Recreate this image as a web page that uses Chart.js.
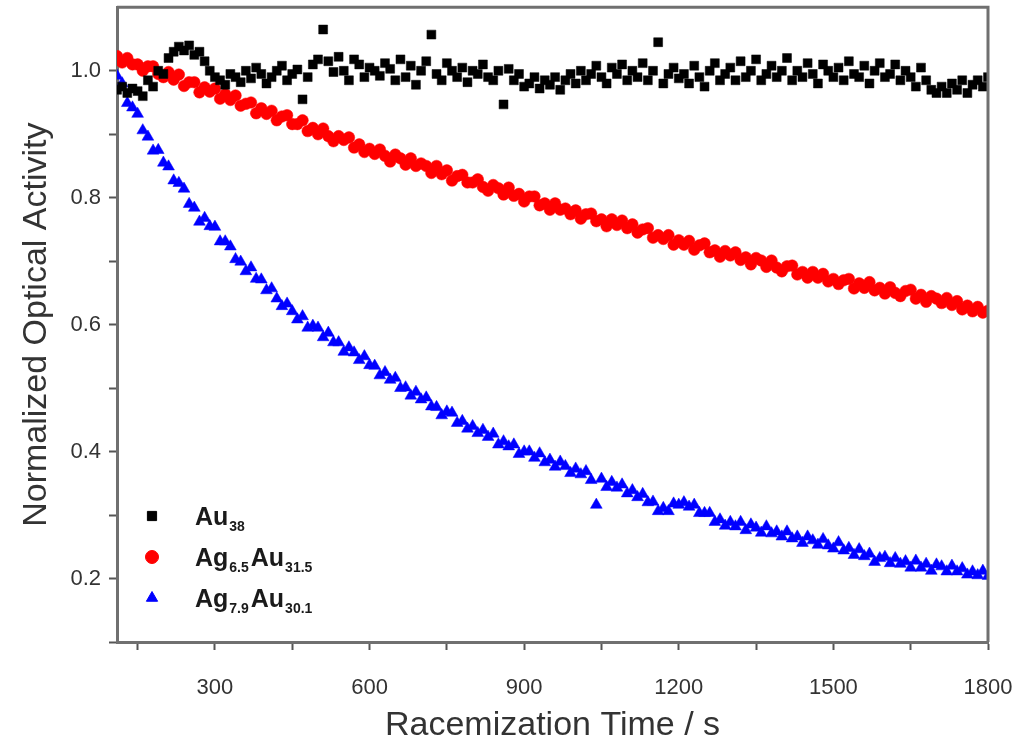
<!DOCTYPE html>
<html>
<head>
<meta charset="utf-8">
<script src="https://cdn.jsdelivr.net/npm/chart.js@4/dist/chart.umd.min.js"></script>
<style>
html,body{margin:0;padding:0;background:#fff;}
canvas{display:block;}
</style>
</head>
<body>
<canvas id="c" width="1023" height="746"></canvas>
<script>
const times = [
110,120,130,140,150,160,170,180,190,200,
210,220,230,240,250,260,270,280,290,300,
310,320,330,340,350,360,370,380,390,400,
410,420,430,440,450,460,470,480,490,500,
510,520,530,540,550,560,570,580,590,600,
610,620,630,640,650,660,670,680,690,700,
710,720,730,740,750,760,770,780,790,800,
810,820,830,840,850,860,870,880,890,900,
910,920,930,940,950,960,970,980,990,1000,
1010,1020,1030,1040,1050,1060,1070,1080,1090,1100,
1110,1120,1130,1140,1150,1160,1170,1180,1190,1200,
1210,1220,1230,1240,1250,1260,1270,1280,1290,1300,
1310,1320,1330,1340,1350,1360,1370,1380,1390,1400,
1410,1420,1430,1440,1450,1460,1470,1480,1490,1500,
1510,1520,1530,1540,1550,1560,1570,1580,1590,1600,
1610,1620,1630,1640,1650,1660,1670,1680,1690,1700,
1710,1720,1730,1740,1750,1760,1770,1780,1790,1800];

const au38 = [
0.97,0.975,0.965,0.972,0.968,0.96,0.985,0.975,1.0,0.995,
1.02,1.03,1.038,1.032,1.04,1.025,1.03,1.015,1.0,0.99,
0.985,0.978,0.995,0.99,0.982,1.0,0.988,1.005,0.995,0.98,
0.99,1.0,1.008,0.985,0.995,1.002,0.955,0.99,1.01,1.018,
1.065,1.015,0.998,1.022,1.0,0.985,1.018,1.01,0.99,1.005,
1.0,0.992,1.012,1.003,0.985,1.018,0.99,1.008,0.978,1.0,
1.015,1.057,0.995,0.985,1.012,1.0,0.99,1.005,0.982,1.0,
0.995,1.01,0.99,0.985,1.0,0.947,1.003,0.985,0.995,0.975,
0.98,0.99,0.972,0.985,0.978,0.99,0.97,0.985,0.995,0.98,
1.0,0.985,0.995,1.008,0.99,0.98,1.005,0.995,1.01,0.985,
1.0,0.99,1.012,0.985,1.0,1.045,0.98,0.995,1.005,0.988,
0.995,0.98,1.008,0.99,0.975,1.0,1.012,0.985,0.995,1.005,
0.985,1.015,0.99,1.0,1.018,0.985,0.995,1.008,0.99,1.0,
1.02,0.985,1.0,0.99,1.012,0.995,0.98,1.01,1.0,0.99,
1.005,0.985,1.015,0.995,0.99,1.008,0.98,1.0,1.012,0.99,
0.995,1.01,0.985,1.0,0.99,0.975,1.005,0.985,0.97,0.965,
0.975,0.965,0.98,0.97,0.985,0.965,0.978,0.985,0.975,0.99];

const ag65au315 = [
1.023,1.013,1.020,1.010,1.010,1.000,1.007,1.007,0.995,0.990,
0.998,0.986,0.994,0.976,0.982,0.982,0.966,0.974,0.967,0.972,
0.956,0.963,0.954,0.961,0.945,0.948,0.950,0.933,0.941,0.932,
0.937,0.922,0.928,0.930,0.916,0.916,0.922,0.905,0.910,0.900,
0.909,0.897,0.889,0.897,0.891,0.895,0.879,0.884,0.872,0.877,
0.869,0.876,0.866,0.857,0.868,0.862,0.852,0.862,0.850,0.854,
0.850,0.839,0.850,0.837,0.843,0.827,0.834,0.836,0.824,0.824,
0.829,0.817,0.811,0.820,0.815,0.805,0.816,0.803,0.806,0.794,
0.802,0.802,0.788,0.791,0.781,0.791,0.781,0.783,0.774,0.780,
0.767,0.774,0.775,0.763,0.766,0.755,0.766,0.757,0.764,0.752,
0.758,0.745,0.750,0.752,0.737,0.741,0.735,0.741,0.726,0.733,
0.726,0.732,0.718,0.725,0.728,0.714,0.717,0.707,0.716,0.709,
0.714,0.702,0.706,0.695,0.705,0.701,0.691,0.701,0.690,0.684,
0.692,0.693,0.679,0.683,0.674,0.683,0.674,0.680,0.668,0.672,
0.664,0.670,0.672,0.657,0.665,0.658,0.667,0.654,0.658,0.649,
0.659,0.650,0.645,0.653,0.655,0.641,0.647,0.636,0.645,0.641,
0.634,0.642,0.631,0.637,0.624,0.630,0.621,0.628,0.619,0.622];

const ag79au301 = [
0.992,0.980,0.949,0.942,0.932,0.906,0.896,0.874,0.875,0.855,
0.849,0.827,0.823,0.814,0.790,0.784,0.762,0.768,0.755,0.754,
0.731,0.731,0.723,0.703,0.699,0.684,0.690,0.672,0.671,0.654,
0.657,0.641,0.629,0.633,0.621,0.608,0.613,0.595,0.598,0.595,
0.580,0.587,0.572,0.572,0.557,0.564,0.556,0.544,0.550,0.536,
0.535,0.520,0.525,0.513,0.516,0.500,0.501,0.488,0.494,0.482,
0.485,0.471,0.470,0.457,0.463,0.461,0.445,0.448,0.436,0.440,
0.429,0.434,0.423,0.428,0.411,0.416,0.408,0.411,0.396,0.400,
0.400,0.390,0.397,0.383,0.387,0.376,0.384,0.377,0.366,0.373,
0.364,0.369,0.355,0.316,0.357,0.344,0.352,0.343,0.348,0.334,
0.339,0.328,0.333,0.320,0.321,0.306,0.311,0.306,0.318,0.316,
0.320,0.313,0.316,0.303,0.303,0.303,0.289,0.293,0.283,0.289,
0.282,0.289,0.276,0.285,0.280,0.272,0.282,0.271,0.274,0.266,
0.274,0.263,0.266,0.256,0.266,0.260,0.253,0.262,0.252,0.247,
0.257,0.244,0.248,0.237,0.246,0.235,0.239,0.226,0.232,0.234,
0.224,0.232,0.223,0.227,0.217,0.228,0.217,0.223,0.212,0.222,
0.219,0.211,0.220,0.211,0.216,0.206,0.211,0.205,0.212,0.204];

const xTickValues = [150,300,450,600,750,900,1050,1200,1350,1500,1650,1800];
const xTickLabels = ['','300','','600','','900','','1200','','1500','','1800'];
const yTickValues = [0.1,0.2,0.3,0.4,0.5,0.6,0.7,0.8,0.9,1.0];
const yTickLabels = ['','0.2','','0.4','','0.6','','0.8','','1.0'];

const seriesNames = ['Au38','Ag6.5Au31.5','Ag7.9Au30.1'];
const legendParts = [
  [['Au',false],['38',true]],
  [['Ag',false],['6.5',true],['Au',false],['31.5',true]],
  [['Ag',false],['7.9',true],['Au',false],['30.1',true]]
];
const colors = ['#000000','#ff0000','#0000ff'];
const styles = ['rect','circle','triangle'];

const FONT = '"Liberation Sans", Arial, Helvetica, sans-serif';

function pts(arr){ return times.map((t,i)=>({x:t,y:arr[i]})); }

const framePlugin = {
  id:'frame',
  afterDatasetsDraw(chart){
    const {ctx, chartArea:a} = chart;
    ctx.save();
    ctx.strokeStyle = '#707070';
    ctx.lineWidth = 3;
    ctx.beginPath();
    ctx.moveTo(a.left, a.top);
    ctx.lineTo(a.right, a.top);
    ctx.lineTo(a.right, a.bottom);
    ctx.stroke();
    ctx.restore();
  }
};

const legendPlugin = {
  id:'subLegend',
  afterDraw(chart){
    const {ctx, chartArea:a} = chart;
    ctx.save();
    const mx = a.left + 35;
    const rowY = [a.bottom - 126, a.bottom - 85, a.bottom - 44];
    legendParts.forEach((parts, i) => {
      const cy = rowY[i];
      ctx.fillStyle = colors[i];
      ctx.strokeStyle = colors[i];
      Chart.helpers.drawPoint(ctx, {pointStyle: styles[i], radius: 6.5, borderWidth: 1, rotation: 0}, mx, cy);
      let x = a.left + 78;
      parts.forEach(([txt, sub]) => {
        ctx.fillStyle = '#1a1a1a';
        ctx.textBaseline = 'alphabetic';
        ctx.textAlign = 'left';
        if (sub) {
          ctx.font = 'bold 14px ' + FONT;
          ctx.fillText(txt, x + 1, cy + 15);
          x += ctx.measureText(txt).width + 3;
        } else {
          ctx.font = 'bold 25px ' + FONT;
          ctx.fillText(txt, x, cy + 9);
          x += ctx.measureText(txt).width;
        }
      });
    });
    ctx.restore();
  }
};

new Chart(document.getElementById('c'), {
  type: 'scatter',
  data: {
    datasets: [
      {label: seriesNames[0], data: pts(au38), pointStyle: styles[0], pointRadius: 6.3, backgroundColor: colors[0], borderColor: colors[0], pointBorderWidth: 0.5},
      {label: seriesNames[1], data: pts(ag65au315), pointStyle: styles[1], pointRadius: 5.8, backgroundColor: colors[1], borderColor: colors[1], pointBorderWidth: 0.5},
      {label: seriesNames[2], data: pts(ag79au301), pointStyle: styles[2], pointRadius: 6.8, backgroundColor: colors[2], borderColor: colors[2], pointBorderWidth: 0.5}
    ]
  },
  options: {
    responsive: false,
    animation: false,
    events: [],
    layout: {padding: {top: 3, right: 35, bottom: 0, left: 0}},
    plugins: {legend: {display: false}, tooltip: {enabled: false}},
    scales: {
      x: {
        type: 'linear', min: 110, max: 1800,
        afterBuildTicks: s => { s.ticks = xTickValues.map(v => ({value: v})); },
        afterFit: s => { s.height = 104; s.paddingLeft = 0; s.paddingRight = 0; },
        ticks: {
          callback: (v, i) => xTickLabels[i],
          autoSkip: false, maxRotation: 0,
          font: {family: FONT, size: 22}, color: '#333', padding: 25
        },
        grid: {drawOnChartArea: false, drawTicks: true, tickLength: 8, tickColor: '#555', tickWidth: 2},
        border: {display: true, color: '#707070', width: 3},
        title: {display: true, text: 'Racemization Time / s', font: {family: FONT, size: 34, lineHeight: 1.2}, color: '#333', padding: {top: 0, bottom: 0}}
      },
      y: {
        type: 'linear', min: 0.1, max: 1.1,
        afterBuildTicks: s => { s.ticks = yTickValues.map(v => ({value: v})); },
        afterFit: s => { s.width = 117; s.paddingTop = 0; s.paddingBottom = 0; },
        ticks: {
          callback: (v, i) => yTickLabels[i],
          autoSkip: false,
          font: {family: FONT, size: 22}, color: '#333', padding: 8
        },
        grid: {drawOnChartArea: false, drawTicks: true, tickLength: 8, tickColor: '#555', tickWidth: 2},
        border: {display: true, color: '#707070', width: 3},
        title: {display: true, text: 'Normalized Optical Activity', font: {family: FONT, size: 34, lineHeight: 1.2}, color: '#333', padding: {top: 16, bottom: 0}}
      }
    }
  },
  plugins: [framePlugin, legendPlugin]
});
</script>
</body>
</html>
